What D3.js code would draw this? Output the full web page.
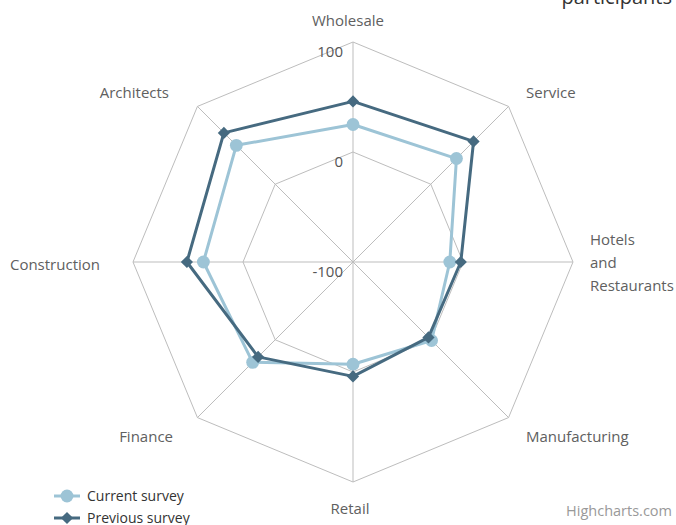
<!DOCTYPE html>
<html>
<head>
<meta charset="utf-8">
<script src="https://cdn.jsdelivr.net/npm/d3@7"></script>
<style>
  body { margin: 0; background: #fff; }
  svg { font-family: "Open Sans", sans-serif; }
</style>
</head>
<body>
<svg id="chart" width="676" height="525"></svg>
<script>
var categories = ["Wholesale", "Service", "Hotels and Restaurants", "Manufacturing", "Retail", "Finance", "Construction", "Architects"];
var currentSurvey = [25, 33, -12, 1, -7, 29, 36, 50];
var previousSurvey = [46, 55, -2, -3, 4, 22, 51, 66];
var radialTicks = [-100, 0, 100];

var svg = d3.select("#chart");
var cx = 353, cy = 262, radius = 220;

var r = d3.scaleLinear().domain([-100, 100]).range([0, radius]);
var angle = d3.scaleLinear().domain([0, categories.length]).range([0, 2 * Math.PI]);

function pt(i, v) {
    var a = angle(i) - Math.PI / 2;
    return [cx + r(v) * Math.cos(a), cy + r(v) * Math.sin(a)];
}

var grid = svg.append("g").attr("class", "grid");

// spokes
grid.selectAll(".spoke")
    .data(categories)
    .enter()
    .append("line")
    .attr("x1", cx).attr("y1", cy)
    .attr("x2", (d, i) => pt(i, 100)[0])
    .attr("y2", (d, i) => pt(i, 100)[1])
    .attr("stroke", "#bdbdbd")
    .attr("stroke-width", 1);

// rings
grid.selectAll(".ring")
    .data(radialTicks.filter(t => t > -100))
    .enter()
    .append("polygon")
    .attr("points", t => categories.map((c, i) => pt(i, t).join(",")).join(" "))
    .attr("fill", "none")
    .attr("stroke", "#bdbdbd")
    .attr("stroke-width", 1);

// radial tick labels
grid.selectAll(".tick-label")
    .data(radialTicks)
    .enter()
    .append("text")
    .attr("x", cx - 10)
    .attr("y", t => cy - r(t) + 15)
    .attr("text-anchor", "end")
    .style("font-size", "15px")
    .style("fill", "#555")
    .text(t => t);

// category labels
var labelPos = [
    { x: 348, y: 26, anchor: "middle" },
    { x: 526, y: 98, anchor: "start" },
    { x: 590, y: 245, anchor: "start" },
    { x: 526, y: 442, anchor: "start" },
    { x: 350, y: 514, anchor: "middle" },
    { x: 173, y: 442, anchor: "end" },
    { x: 100, y: 270, anchor: "end" },
    { x: 169, y: 98, anchor: "end" }
];

categories.forEach(function (c, i) {
    var p = labelPos[i];
    var t = svg.append("text")
        .attr("x", p.x)
        .attr("y", p.y)
        .attr("text-anchor", p.anchor)
        .style("font-size", "15px")
        .style("fill", "#606060");
    if (c == "Hotels and Restaurants") {
        ["Hotels", "and", "Restaurants"].forEach(function (w, j) {
            t.append("tspan").attr("x", p.x).attr("dy", j == 0 ? 0 : 23).text(w);
        });
    } else {
        t.text(c);
    }
});

var series = [
    { name: "Current survey", data: currentSurvey, color: "#9dc4d6", symbol: d3.symbolCircle, size: 130 },
    { name: "Previous survey", data: previousSurvey, color: "#466a80", symbol: d3.symbolDiamond2, size: 95 }
];

var line = d3.line()
    .x(d => d[0])
    .y(d => d[1])
    .curve(d3.curveLinearClosed);

series.forEach(function (s) {
    var pts = s.data.map((v, i) => pt(i, v));
    svg.append("path")
        .datum(pts)
        .attr("fill", "none")
        .attr("stroke", s.color)
        .attr("stroke-width", 3)
        .attr("stroke-linejoin", "round")
        .attr("d", line);
    svg.selectAll(null)
        .data(pts)
        .enter()
        .append("path")
        .attr("transform", d => "translate(" + d[0] + "," + d[1] + ")")
        .attr("d", d3.symbol().type(s.symbol).size(s.size))
        .attr("fill", s.color);
});

// legend
var legend = svg.append("g").attr("class", "legend");
series.forEach(function (s, i) {
    var y = 496 + i * 22;
    var item = legend.append("g").attr("transform", "translate(0," + y + ")");
    item.append("line")
        .attr("x1", 54).attr("x2", 80)
        .attr("y1", 0).attr("y2", 0)
        .attr("stroke", s.color)
        .attr("stroke-width", 3);
    item.append("path")
        .attr("transform", "translate(67,0)")
        .attr("d", d3.symbol().type(s.symbol).size(s.size))
        .attr("fill", s.color);
    item.append("text")
        .attr("x", 87)
        .attr("y", 5)
        .style("font-size", "14px")
        .style("fill", "#333")
        .text(s.name);
});

// title (cut off at top)
svg.append("text")
    .attr("x", 672)
    .attr("y", 4)
    .attr("text-anchor", "end")
    .style("font-size", "20px")
    .style("fill", "#333")
    .text("participants");

// credits
svg.append("text")
    .attr("x", 672)
    .attr("y", 516)
    .attr("text-anchor", "end")
    .style("font-size", "14.5px")
    .style("fill", "#999")
    .text("Highcharts.com");
</script>
</body>
</html>
